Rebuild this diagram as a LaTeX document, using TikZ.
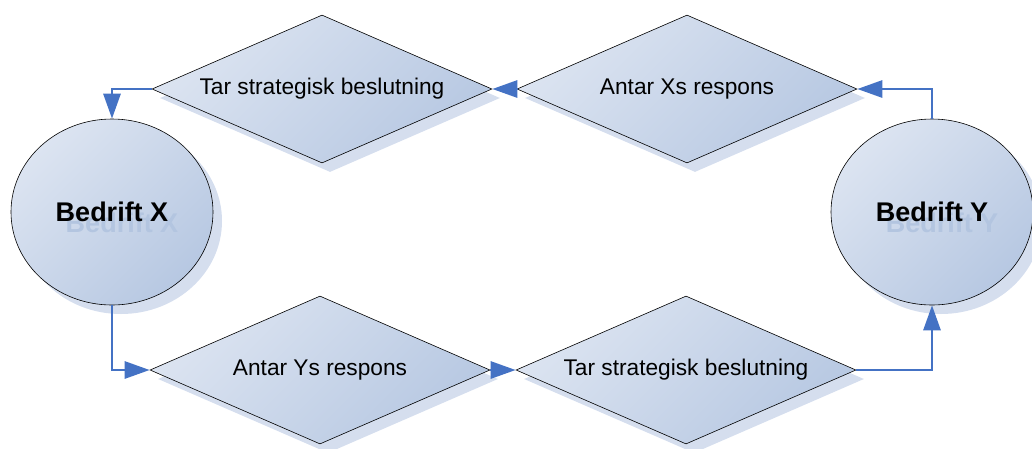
\documentclass[tikz,border=0pt]{standalone}
\usepackage{fontspec}
\setmainfont{Liberation Sans}
\usetikzlibrary{shapes.geometric,shadows,arrows.meta}
\definecolor{lite}{HTML}{DCE4F1}
\definecolor{dark}{HTML}{B7C8E2}
\definecolor{shad}{HTML}{D5DEEE}
\definecolor{connc}{HTML}{4472C4}
\definecolor{txtshad}{HTML}{B3C5E0}
\begin{document}
\begin{tikzpicture}[x=1pt,y=-1pt,
  dia/.style={diamond, draw=black, line width=0.6pt, minimum width=340pt,
    minimum height=148pt, inner sep=0pt, top color=lite, bottom color=dark,
    shading angle=45,
    drop shadow={shadow xshift=8pt, shadow yshift=-9pt, fill=shad, opacity=1},
    font=\fontsize{22.7}{26}\selectfont},
  firm/.style={ellipse, draw=black, line width=0.6pt, minimum width=202pt,
    minimum height=186pt, inner sep=0pt, top color=lite, bottom color=dark,
    shading angle=45,
    drop shadow={shadow xshift=9pt, shadow yshift=-9pt, fill=shad, opacity=1},
    font=\bfseries\fontsize{27}{30}\selectfont,
    path picture={\node[text=txtshad, font=\bfseries\fontsize{27}{30}\selectfont,
      xshift=10pt, yshift=-11pt] at (path picture bounding box.center) {#1};}},
  conn/.style={draw=connc, line width=2.8pt, -{Triangle[length=25pt,width=17pt]}}
]
\useasboundingbox (0,0) rectangle (1032,448);
\node[dia] (t1) at (322,89) {\makebox[0pt]{Tar strategisk beslutning}};
\node[dia] (t2) at (687,89) {\makebox[0pt]{Antar Xs respons}};
\node[dia] (b1) at (320,370) {\makebox[0pt]{Antar Ys respons}};
\node[dia] (b2) at (686,370) {\makebox[0pt]{Tar strategisk beslutning}};
\node[firm=Bedrift X] (x) at (112,212) {Bedrift X};
\node[firm=Bedrift Y] (y) at (932,212) {Bedrift Y};
\draw[conn] (t1.west) -| (x.north);
\draw[conn] (y.north) |- (t2.east);
\draw[conn] (t2.west) -- (t1.east);
\draw[conn] (x.south) |- (b1.west);
\draw[conn] (b1.east) -- (b2.west);
\draw[conn] (b2.east) -| (y.south);
\end{tikzpicture}
\end{document}
